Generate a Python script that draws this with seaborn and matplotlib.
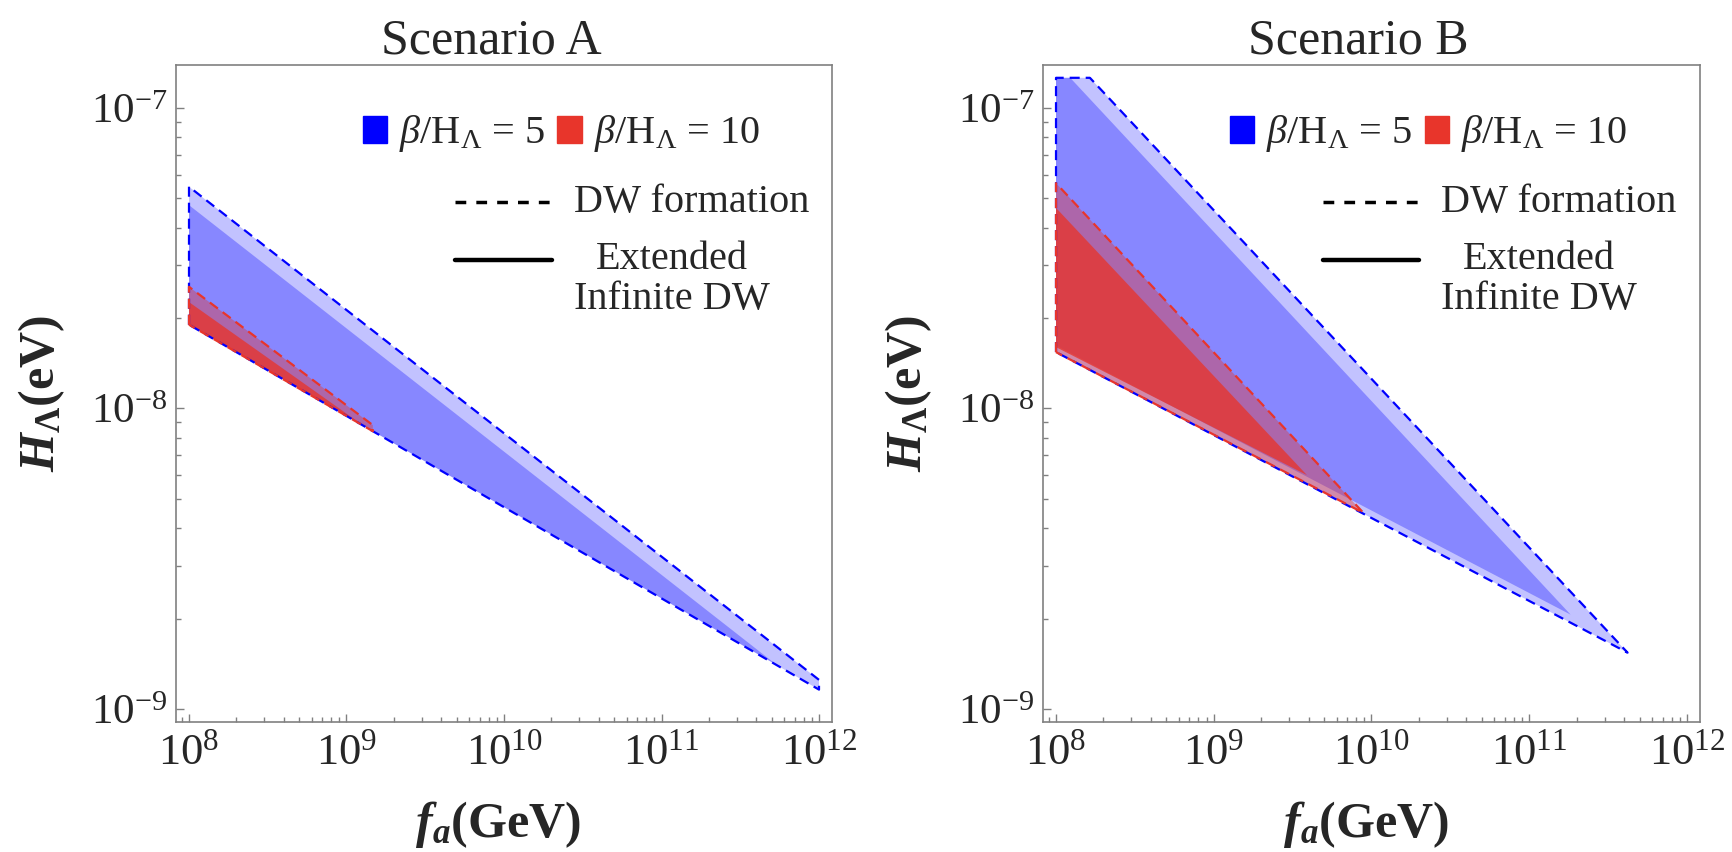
import matplotlib
matplotlib.use("Agg")
import matplotlib.pyplot as plt
import matplotlib.ticker as mticker
from matplotlib.lines import Line2D
from matplotlib.patches import Patch
from matplotlib.transforms import ScaledTranslation
import seaborn as sns

# Scenario A: corner points of the allowed regions (f_a in GeV, H_Lambda in eV)
A_blue_dw_x = [1e8, 1e8, 1e12, 1e12]
A_blue_dw_y = [1.90e-8, 5.47e-8, 1.25e-9, 1.16e-9]
A_blue_ext_x = [1e8, 1e8, 5.4e11]
A_blue_ext_y = [1.90e-8, 4.75e-8, 1.40e-9]
A_red_dw_x = [1e8, 1e8, 1.47e9, 1.47e9]
A_red_dw_y = [1.90e-8, 2.54e-8, 8.8e-9, 8.4e-9]
A_red_ext_x = [1e8, 1e8, 1.27e9]
A_red_ext_y = [1.90e-8, 2.26e-8, 8.8e-9]

# Scenario B
B_blue_dw_x = [1e8, 1e8, 1.64e8, 4.2e11]
B_blue_dw_y = [1.54e-8, 1.26e-7, 1.26e-7, 1.54e-9]
B_blue_ext_x = [1e8, 1e8, 1.23e8, 1.83e11]
B_blue_ext_y = [1.62e-8, 1.26e-7, 1.26e-7, 2.06e-9]
B_red_dw_x = [1e8, 1e8, 8.9e9]
B_red_dw_y = [1.54e-8, 5.62e-8, 4.49e-9]
B_red_ext_x = [1e8, 1e8, 3.9e9]
B_red_ext_y = [1.60e-8, 4.65e-8, 6.0e-9]

X_TICKS = [1e8, 1e9, 1e10, 1e11, 1e12]
Y_TICKS = [1e-9, 1e-8, 1e-7]
TITLES = ["Scenario A", "Scenario B"]
BLUE = "#0000ff"
RED = "#e8352b"
FRAME = "#808080"

sns.set_style("ticks")
plt.rcParams["font.family"] = ["Liberation Serif", "DejaVu Serif"]
plt.rcParams["mathtext.fontset"] = "custom"
plt.rcParams["mathtext.rm"] = "Liberation Serif"
plt.rcParams["mathtext.it"] = "Liberation Serif:italic"
plt.rcParams["mathtext.bf"] = "Liberation Serif:bold:italic"
plt.rcParams["mathtext.sf"] = "Liberation Serif:bold"
plt.rcParams["mathtext.fallback"] = "stix"


def draw_panel(ax, regions, title):
    bx, by, bex, bey, rx, ry, rex, rey = regions
    ax.fill(bx, by, color=BLUE, alpha=0.24, lw=0)
    ax.fill(bex, bey, color=BLUE, alpha=0.30, lw=0)
    ax.fill(rx, ry, color=RED, alpha=0.40, lw=0)
    ax.fill(rex, rey, color=RED, alpha=0.78, lw=0)
    for xs, ys, col in [(bx, by, BLUE), (rx, ry, RED)]:
        sns.lineplot(x=xs + xs[:1], y=ys + ys[:1], sort=False, estimator=None,
                     color=col, lw=1.6, linestyle=(0, (4.5, 2.7)), ax=ax)

    ax.set_xscale("log")
    ax.set_yscale("log")
    ax.set_xlim(10 ** 7.9175, 10 ** 12.0825)
    ax.set_ylim(10 ** -9.0433, 10 ** -6.857)
    ax.xaxis.set_major_locator(mticker.FixedLocator(X_TICKS))
    ax.yaxis.set_major_locator(mticker.FixedLocator(Y_TICKS))
    ax.xaxis.set_major_formatter(mticker.LogFormatterSciNotation())
    ax.yaxis.set_major_formatter(mticker.LogFormatterSciNotation())
    ax.xaxis.set_minor_locator(mticker.LogLocator(base=10, subs=range(2, 10), numticks=20))
    ax.yaxis.set_minor_locator(mticker.LogLocator(base=10, subs=range(2, 10), numticks=20))
    ax.xaxis.set_minor_formatter(mticker.NullFormatter())
    ax.yaxis.set_minor_formatter(mticker.NullFormatter())
    ax.tick_params(which="both", direction="in", color=FRAME, width=1,
                   top=False, right=False)
    ax.tick_params(axis="x", labelsize=32, pad=8)
    ax.tick_params(axis="y", labelsize=31, pad=6)
    ax.tick_params(which="major", length=6)
    ax.tick_params(which="minor", length=3.5)
    for sp in ax.spines.values():
        sp.set_color(FRAME)
        sp.set_linewidth(1.2)
        sp.set_visible(True)

    ax.set_title(title, fontsize=36, pad=7.5, x=0.48)
    ax.set_xlabel(r"$\mathbf{f}_{\mathbf{a}}\mathsf{(GeV)}$", fontsize=36, va="center")
    ax.set_ylabel(r"$\mathbf{H}_{\mathsf{\Lambda}}\mathsf{(eV)}$", fontsize=36, va="center")
    ax.xaxis.set_label_coords(0.491, -0.1556)
    ax.yaxis.set_label_coords(-0.205, 0.5)

    leg1 = ax.legend(handles=[Patch(color=BLUE), Patch(color=RED)],
                     labels=[r"$\beta/\mathrm{H}_{\Lambda}$ = 5", r"$\beta/\mathrm{H}_{\Lambda}$ = 10"],
                     ncol=2, loc="center left", bbox_to_anchor=(0.285, 0.895),
                     frameon=False, fontsize=29, handlelength=0.6, handleheight=0.65,
                     handletextpad=0.3, columnspacing=0.3, borderaxespad=0, borderpad=0)
    ax.add_artist(leg1)
    leg2 = ax.legend(handles=[Line2D([], [], color="k", lw=2.5, linestyle=(0, (3.1, 2.9))),
                              Line2D([], [], color="k", lw=3.2)],
                     labels=["DW formation", "Extended\nInfinite DW"],
                     loc="upper left", bbox_to_anchor=(0.4255, 0.8196),
                     frameon=False, fontsize=29, handlelength=2.4,
                     handletextpad=0.55, labelspacing=0.5, borderaxespad=0, borderpad=0)
    for t in leg2.get_texts():
        t.set_multialignment("center")
        t.set_linespacing(1.13)
    # nudge the handles to sit level with the first line of each label
    dpi_tr = ax.figure.dpi_scale_trans
    h_dash, h_solid = leg2.legend_handles
    h_dash.set_transform(h_dash.get_transform() + ScaledTranslation(0, -0.045, dpi_tr))
    h_solid.set_transform(h_solid.get_transform() + ScaledTranslation(0, 0.195, dpi_tr))


fig = plt.figure(figsize=(17.33, 8.52), dpi=100)
ax1 = fig.add_axes([176 / 1733, 1 - 722 / 852, 656 / 1733, 657 / 852])
ax2 = fig.add_axes([1043 / 1733, 1 - 722 / 852, 657 / 1733, 657 / 852])

draw_panel(ax1, (A_blue_dw_x, A_blue_dw_y, A_blue_ext_x, A_blue_ext_y,
                 A_red_dw_x, A_red_dw_y, A_red_ext_x, A_red_ext_y), TITLES[0])
draw_panel(ax2, (B_blue_dw_x, B_blue_dw_y, B_blue_ext_x, B_blue_ext_y,
                 B_red_dw_x, B_red_dw_y, B_red_ext_x, B_red_ext_y), TITLES[1])

fig.savefig("out.png", dpi=100)
